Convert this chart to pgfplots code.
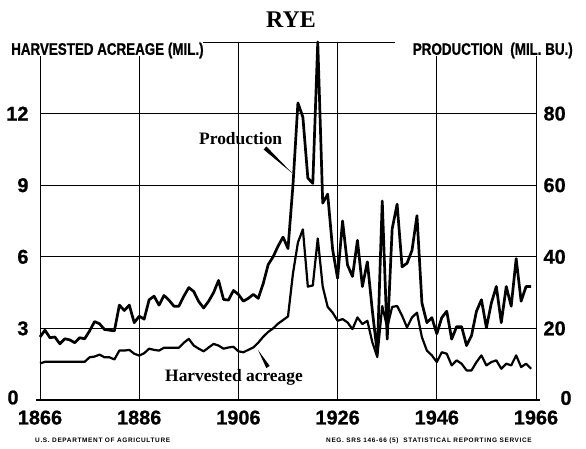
\documentclass[border=0pt]{standalone}
\usepackage{pgfplots}
\pgfplotsset{compat=1.18}
\usepackage{fontspec}
\setmainfont{Liberation Sans}
\newfontfamily\heavy{Liberation Sans}[FakeBold=0.8]
\newfontfamily\condb{Liberation Sans}[FakeStretch=0.8, FakeBold=0.8]
\newfontfamily\serifb{Liberation Serif}
\newfontfamily\footf{Liberation Sans}[LetterSpace=10]

\pgfplotstableread{
year prod
1866 17.6
1867 19.5
1868 17.4
1869 17.6
1870 15.7
1871 17.1
1872 16.8
1873 16.0
1874 17.4
1875 17.1
1876 19.3
1877 21.9
1878 21.3
1879 19.7
1880 19.5
1881 19.3
1882 26.5
1883 25.0
1884 26.5
1885 21.6
1886 23.4
1887 22.6
1888 28.0
1889 29.0
1890 26.5
1891 29.2
1892 27.9
1893 26.2
1894 26.2
1895 29.0
1896 31.4
1897 30.3
1898 27.5
1899 25.7
1900 27.6
1901 30.0
1902 33.4
1903 28.1
1904 27.9
1905 30.6
1906 29.5
1907 27.6
1908 28.4
1909 29.5
1910 28.4
1911 32.5
1912 37.8
1913 40.0
1914 43.0
1915 45.5
1916 42.3
1917 60.0
1918 83.0
1919 79.0
1920 62.0
1921 60.5
1922 100.0
1923 55.0
1924 57.5
1925 42.0
1926 34.0
1927 50.0
1928 37.7
1929 34.5
1930 44.6
1931 31.7
1932 38.6
1933 25.0
1934 13.0
1935 55.6
1936 17.0
1937 47.8
1938 54.7
1939 37.2
1940 38.2
1941 41.8
1942 51.5
1943 27.1
1944 21.6
1945 23.0
1946 18.5
1947 23.0
1948 24.8
1949 17.0
1950 20.5
1951 20.5
1952 15.2
1953 18.0
1954 24.8
1955 28.0
1956 20.2
1957 27.1
1958 31.7
1959 21.6
1960 31.7
1961 26.2
1962 39.5
1963 27.6
1964 31.7
1965 31.7
}\prodtable

\pgfplotstableread{
year acres
1866 1.53
1867 1.60
1868 1.60
1869 1.60
1870 1.60
1871 1.60
1872 1.60
1873 1.60
1874 1.60
1875 1.60
1876 1.79
1877 1.82
1878 1.90
1879 1.79
1880 1.79
1881 1.70
1882 2.07
1883 2.07
1884 2.10
1885 1.94
1886 1.86
1887 1.96
1888 2.15
1889 2.10
1890 2.07
1891 2.19
1892 2.19
1893 2.19
1894 2.19
1895 2.40
1896 2.56
1897 2.28
1898 2.15
1899 2.04
1900 2.20
1901 2.35
1902 2.28
1903 2.15
1904 2.20
1905 2.23
1906 2.04
1907 2.00
1908 2.10
1909 2.20
1910 2.40
1911 2.65
1912 2.85
1913 3.00
1914 3.20
1915 3.35
1916 3.50
1917 5.30
1918 6.60
1919 7.15
1920 4.75
1921 4.80
1922 6.77
1923 4.75
1924 3.90
1925 3.66
1926 3.32
1927 3.39
1928 3.25
1929 2.97
1930 3.46
1931 3.18
1932 3.32
1933 2.42
1934 1.80
1935 3.94
1936 3.04
1937 3.90
1938 3.94
1939 3.53
1940 3.04
1941 3.46
1942 3.66
1943 2.63
1944 2.07
1945 1.87
1946 1.59
1947 2.00
1948 1.94
1949 1.45
1950 1.66
1951 1.52
1952 1.24
1953 1.24
1954 1.59
1955 1.87
1956 1.45
1957 1.59
1958 1.66
1959 1.31
1960 1.52
1961 1.45
1962 1.87
1963 1.38
1964 1.52
1965 1.31
}\acretable

\begin{document}
\begin{tikzpicture}
\useasboundingbox (0bp,0bp) rectangle (586bp,449bp);
\pgfplotsset{
  common/.style={
    at={(40bp,49bp)}, anchor=south west, scale only axis,
    width=496bp, height=358bp,
    xmin=1866, xmax=1966, clip=false,
    axis line style={draw=none}, tick style={draw=none},
    tick label style={font=\heavy\bfseries\fontsize{20}{20}\selectfont},
    /pgf/number format/assume math mode=true,
    /pgf/number format/1000 sep={},
  }
}
\begin{axis}[common,
  ymin=0, ymax=15,
  xtick={1866,1886,1906,1926,1946,1966},
  ytick={3,6,9,12},
  yticklabel style={xshift=-8bp},
  xticklabel style={yshift=-7bp},
]
\draw[line width=0.9bp] (axis cs:1866,3) -- (axis cs:1966,3);
\draw[line width=0.9bp] (axis cs:1866,6) -- (axis cs:1966,6);
\draw[line width=0.9bp] (axis cs:1866,9) -- (axis cs:1966,9);
\draw[line width=0.9bp] (axis cs:1866,12) -- (axis cs:1966,12);
\draw[line width=0.9bp] (axis cs:1866,0) -- (axis cs:1866,14.4);
\draw[line width=0.9bp] (axis cs:1886,0) -- (axis cs:1886,14.4);
\draw[line width=0.9bp] (axis cs:1946,0) -- (axis cs:1946,14.4);
\draw[line width=0.9bp] (axis cs:1966,0) -- (axis cs:1966,14.4);
\draw[line width=0.9bp] (axis cs:1906,0) -- (axis cs:1906,15);
\draw[line width=0.9bp] (axis cs:1926,0) -- (axis cs:1926,15);
\draw[line width=0.9bp] (axis cs:1898.9,15) -- (axis cs:1937.6,15);
\draw[line width=2.2bp] (axis cs:1865.2,0) -- (axis cs:1966.8,0);
\addplot[black, line width=2.2bp, line join=round] table[x=year, y=acres] {\acretable};
\end{axis}
\begin{axis}[common,
  ymin=0, ymax=100,
  xtick=\empty,
  ytick={20,40,60,80},
  yticklabel pos=right,
  yticklabel style={xshift=4bp},
]
\addplot[black, line width=2.7bp, line join=round] table[x=year, y=prod] {\prodtable};
\end{axis}

\node[font=\heavy\bfseries\fontsize{20}{20}\selectfont, inner sep=0] at (13bp,51.5bp) {0};
\node[font=\heavy\bfseries\fontsize{20}{20}\selectfont, inner sep=0] at (566bp,51bp) {0};
\node[font=\serifb\bfseries\fontsize{24}{24}\selectfont, inner sep=0] at (291bp,429bp) {RYE};
\node[font=\condb\bfseries\fontsize{16.8}{17}\selectfont, anchor=west, inner sep=0] at (11bp,398.5bp) {HARVESTED ACREAGE (MIL.)};
\node[font=\condb\bfseries\fontsize{16.8}{17}\selectfont, anchor=east, inner sep=0] at (573bp,398.5bp) {PRODUCTION\ \ (MIL. BU.)};
\node[font=\serifb\bfseries\fontsize{17.5}{18}\selectfont, anchor=base west, inner sep=0] at (199bp,304bp) {Production};
\node[font=\serifb\bfseries\fontsize{17.5}{18}\selectfont, anchor=base west, inner sep=0] at (165bp,67bp) {Harvested acreage};
\fill (292bp,276bp) -- (266.4bp,302.5bp) -- (263.6bp,299.5bp) -- cycle;
\fill (258bp,99bp) -- (269.7bp,83.1bp) -- (266.3bp,80.9bp) -- cycle;
\node[font=\footf\bfseries\fontsize{6.5}{7}\selectfont, anchor=base west, inner sep=0] at (35bp,7bp) {U.S. DEPARTMENT OF AGRICULTURE};
\node[font=\footf\bfseries\fontsize{6.5}{7}\selectfont, anchor=base east, inner sep=0] at (532bp,7bp) {NEG. SRS 146-66 (5)\ \ STATISTICAL REPORTING SERVICE};
\end{tikzpicture}
\end{document}
